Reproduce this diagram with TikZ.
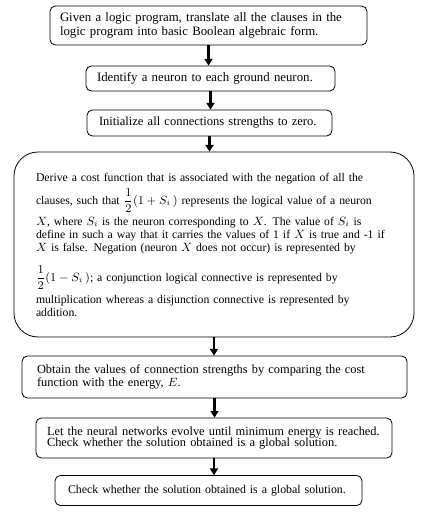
\documentclass[tikz,border=0pt]{standalone}
\usepackage{amsmath}
\usepackage{fontspec}
\setmainfont{Liberation Serif}
\usetikzlibrary{arrows.meta}

\begin{document}
\begin{tikzpicture}[
  x=0.75pt, y=-0.75pt,
  every node/.style={align=left},
  stage/.style={draw, line width=0.6pt, rounded corners=4pt, inner ysep=0pt,
    font=\fontsize{9.3}{9.5}\selectfont},
  flow/.style={line width=1.6pt, -{Triangle[width=6pt,length=5pt]}}
]
\useasboundingbox (0,0) rectangle (431,516);

% ── the seven steps, top to bottom ──────────────────────────────────
\node[stage, minimum width=237.75pt, minimum height=29.25pt,
      inner xsep=7.5pt, text width=222.75pt, font=\fontsize{9.6}{10.5}\selectfont]
  (translate) at (208.5,25.5)
  {Given a logic program, translate all the clauses in the\\
   logic program into basic Boolean algebraic form.};
\node[stage, minimum width=186.75pt, minimum height=18.75pt,
      inner xsep=8.25pt, text width=170.25pt, font=\fontsize{9.6}{11}\selectfont]
  (identify) at (210.5,78.5)
  {\mbox{Identify a neuron to each ground neuron.}};
\node[stage, minimum width=183.75pt, minimum height=19.5pt,
      inner xsep=9pt, text width=165.75pt, font=\fontsize{9.4}{11}\selectfont]
  (init) at (209.5,123)
  {\mbox{Initialize all connections strengths to zero.}};
\node[stage, rounded corners=18pt, minimum width=300pt, minimum height=138.75pt,
      inner xsep=16.5pt, text width=267pt, font=\fontsize{8.8}{9.75}\selectfont]
  (cost) at (214,244.5)
  {Derive a cost function that is associated with the negation of all the\\[3pt]
   clauses, such that $\dfrac{1}{2}(1+S_{i}\,)$ represents the logical value of a neuron\\[2.5pt]
   $X$, where $S_{i}$ is the neuron corresponding to $X$. The value of $S_{i}$ is\\
   define in such a way that it carries the values of 1 if $X$ is true and -1 if\\
   $X$ is false. Negation (neuron $X$ does not occur) is represented by\\[8pt]
   $\dfrac{1}{2}(1-S_{i}\,)$; a conjunction logical connective is represented by\\[3pt]
   multiplication whereas a disjunction connective is represented by\\
   addition.\par\vspace*{14pt}};
\node[stage, minimum width=288.75pt, minimum height=31.5pt,
      inner xsep=11.25pt, text width=266.25pt]
  (compare) at (214.5,377)
  {Obtain the values of connection strengths by comparing the cost\\
   function with the energy, $E$.};
\node[stage, minimum width=267pt, minimum height=30pt,
      inner xsep=8.25pt, text width=250.5pt, font=\fontsize{9.3}{8.5}\selectfont]
  (evolve) at (214,438)
  {Let the neural networks evolve until minimum energy is reached.\\
   Check whether the solution obtained is a global solution.};
\node[stage, minimum width=230.25pt, minimum height=22.5pt,
      inner xsep=9.75pt, text width=210.75pt, font=\fontsize{8.9}{9.5}\selectfont]
  (check) at (208.5,490.5)
  {\mbox{Check whether the solution obtained is a global solution.}};

% ── arrows between the steps ────────────────────────────────────────
\draw[flow] (translate.south) -- (translate.south |- identify.north);
\draw[flow] (identify.south) -- (identify.south |- init.north);
\draw[flow] (init.south) -- (init.south |- cost.north);
\draw[flow] (cost.south) -- (cost.south |- compare.north);
\draw[flow] (compare.south) -- (compare.south |- evolve.north);
\draw[flow] (evolve.south) -- (evolve.south |- check.north);

\end{tikzpicture}
\end{document}
